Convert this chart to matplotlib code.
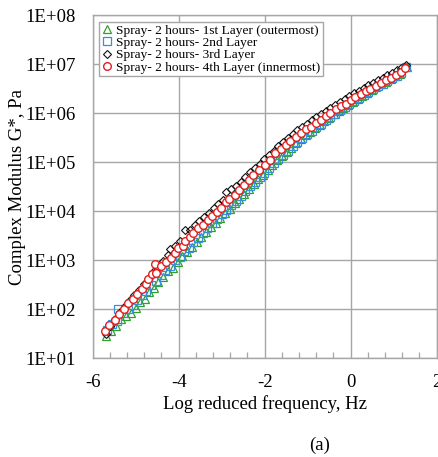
import numpy as np
import matplotlib
matplotlib.use("Agg")
import matplotlib.pyplot as plt
from matplotlib.ticker import MultipleLocator, FixedLocator, NullLocator, FuncFormatter

plt.rcParams['font.family'] = ['Liberation Serif', 'DejaVu Serif']

# ---- data: x = log reduced frequency (Hz), y = log10 |G*| (Pa) ----
x_l1 = [-5.68, -5.57, -5.45, -5.34, -5.23, -5.12, -5.00, -4.90, -4.79, -4.68, -4.57, -4.47,
        -4.36, -4.24, -4.13, -4.02, -3.92, -3.80, -3.70, -3.58, -3.47, -3.36, -3.25, -3.14,
        -3.03, -2.92, -2.81, -2.70, -2.59, -2.48, -2.37, -2.26, -2.15, -2.04, -1.93, -1.82,
        -1.71, -1.60, -1.49, -1.38, -1.27, -1.16, -1.05, -0.94, -0.83, -0.72, -0.61, -0.50,
        -0.39, -0.28, -0.17, -0.06, 0.05, 0.16, 0.27, 0.38, 0.49, 0.60, 0.71, 0.82,
        0.93, 1.04, 1.15, 1.30]
lg_l1 = [1.46, 1.56, 1.66, 1.80, 1.86, 1.92, 2.03, 2.15, 2.22, 2.36, 2.44, 2.55,
         2.66, 2.78, 2.84, 2.97, 3.08, 3.16, 3.28, 3.37, 3.47, 3.57, 3.67, 3.77,
         3.86, 3.96, 4.05, 4.16, 4.25, 4.35, 4.45, 4.55, 4.65, 4.75, 4.85, 4.94,
         5.04, 5.13, 5.21, 5.30, 5.39, 5.47, 5.55, 5.62, 5.70, 5.77, 5.84, 5.91,
         5.98, 6.04, 6.10, 6.16, 6.23, 6.29, 6.35, 6.41, 6.47, 6.53, 6.59, 6.64,
         6.70, 6.76, 6.81, 6.95]

x_l2 = [-5.66, -5.55, -5.44, -5.40, -5.29, -5.18, -5.07, -4.96, -4.86, -4.75, -4.64, -4.53,
        -4.42, -4.31, -4.20, -4.09, -3.98, -3.88, -3.77, -3.66, -3.55, -3.44, -3.33, -3.22,
        -3.11, -3.00, -2.89, -2.78, -2.67, -2.56, -2.45, -2.34, -2.23, -2.12, -2.01, -1.90,
        -1.79, -1.68, -1.57, -1.46, -1.35, -1.24, -1.13, -1.02, -0.91, -0.80, -0.69, -0.58,
        -0.47, -0.36, -0.25, -0.14, -0.03, 0.08, 0.19, 0.30, 0.41, 0.52, 0.63, 0.74,
        0.85, 0.96, 1.07, 1.18, 1.29]
lg_l2 = [1.58, 1.70, 1.76, 2.00, 1.93, 2.00, 2.08, 2.18, 2.30, 2.38, 2.50, 2.58,
         2.70, 2.80, 2.88, 3.00, 3.06, 3.18, 3.26, 3.38, 3.46, 3.56, 3.65, 3.76,
         3.84, 3.94, 4.03, 4.13, 4.22, 4.32, 4.41, 4.51, 4.60, 4.70, 4.79, 4.89,
         4.98, 5.07, 5.15, 5.24, 5.33, 5.41, 5.49, 5.57, 5.64, 5.72, 5.79, 5.86,
         5.93, 5.99, 6.06, 6.12, 6.18, 6.25, 6.31, 6.37, 6.43, 6.49, 6.55, 6.60,
         6.66, 6.72, 6.77, 6.83, 6.95]

x_l3 = [-5.70, -5.59, -5.47, -5.36, -5.25, -5.14, -5.03, -4.92, -4.81, -4.70, -4.59, -4.48,
        -4.37, -4.26, -4.20, -4.09, -3.97, -3.85, -3.74, -3.63, -3.52, -3.41, -3.30, -3.19,
        -3.08, -2.97, -2.89, -2.78, -2.67, -2.56, -2.45, -2.34, -2.23, -2.12, -2.01, -1.90,
        -1.79, -1.68, -1.57, -1.46, -1.35, -1.24, -1.13, -1.02, -0.91, -0.80, -0.69, -0.58,
        -0.47, -0.36, -0.25, -0.14, -0.03, 0.08, 0.19, 0.30, 0.41, 0.52, 0.63, 0.74,
        0.85, 0.96, 1.07, 1.18, 1.29]
lg_l3 = [1.50, 1.66, 1.80, 1.95, 2.06, 2.18, 2.30, 2.40, 2.52, 2.64, 2.76, 2.86,
         2.98, 3.10, 3.24, 3.30, 3.40, 3.61, 3.62, 3.72, 3.80, 3.88, 3.96, 4.06,
         4.14, 4.24, 4.40, 4.46, 4.52, 4.60, 4.70, 4.80, 4.88, 4.97, 5.06, 5.15,
         5.24, 5.33, 5.41, 5.49, 5.57, 5.65, 5.72, 5.79, 5.86, 5.93, 5.99, 6.05,
         6.11, 6.17, 6.23, 6.29, 6.35, 6.41, 6.46, 6.52, 6.57, 6.62, 6.68, 6.73,
         6.78, 6.83, 6.88, 6.93, 6.99]

x_l4 = [-5.72, -5.61, -5.49, -5.39, -5.28, -5.19, -5.06, -4.96, -4.85, -4.76, -4.72, -4.61,
        -4.56, -4.52, -4.40, -4.30, -4.19, -4.09, -4.01, -3.91, -3.86, -3.74, -3.67, -3.55,
        -3.44, -3.32, -3.22, -3.11, -3.01, -2.91, -2.82, -2.70, -2.60, -2.49, -2.37, -2.27,
        -2.14, -2.00, -1.88, -1.76, -1.63, -1.51, -1.40, -1.28, -1.16, -1.05, -0.93, -0.81,
        -0.70, -0.58, -0.47, -0.35, -0.23, -0.12, 0.00, 0.11, 0.23, 0.35, 0.46, 0.58,
        0.70, 0.81, 0.93, 1.05, 1.16, 1.27]
lg_l4 = [1.56, 1.67, 1.79, 1.90, 2.00, 2.13, 2.20, 2.31, 2.42, 2.51, 2.62, 2.72,
         2.92, 2.74, 2.88, 2.97, 3.04, 3.14, 3.26, 3.29, 3.39, 3.48, 3.56, 3.66,
         3.72, 3.82, 3.90, 3.99, 4.07, 4.19, 4.26, 4.33, 4.43, 4.53, 4.64, 4.74,
         4.84, 4.94, 5.05, 5.18, 5.27, 5.35, 5.43, 5.52, 5.60, 5.67, 5.73, 5.80,
         5.87, 5.94, 6.01, 6.08, 6.14, 6.20, 6.27, 6.33, 6.39, 6.45, 6.50, 6.56,
         6.62, 6.68, 6.73, 6.79, 6.84, 6.92]

labels = ["Spray- 2 hours- 1st Layer (outermost)",
          "Spray- 2 hours- 2nd Layer",
          "Spray- 2 hours- 3rd Layer",
          "Spray- 2 hours- 4th Layer (innermost)"]

y_tick_exps = [1, 2, 3, 4, 5, 6, 7, 8]
x_ticks = [-6, -4, -2, 0, 2]

# ---- figure ----
fig = plt.figure(figsize=(4.38, 4.57), dpi=100)
ax = fig.add_axes([0.2116, 0.216, 0.7854, 0.7505])

grid_c = '#A6A6A6'
ax.plot(x_l1, np.power(10.0, lg_l1), linestyle='none', marker='^', ms=6,
        mfc='none', mec='#2ca02c', mew=0.9, label=labels[0], zorder=3)
ax.plot(x_l2, np.power(10.0, lg_l2), linestyle='none', marker='s', ms=5.3,
        mfc='none', mec='#3b8fd9', mew=0.9, label=labels[1], zorder=4)
ax.plot(x_l3, np.power(10.0, lg_l3), linestyle='none', marker='D', ms=4.3,
        mfc='none', mec='#111111', mew=0.8, label=labels[2], zorder=5)
ax.plot(x_l4, np.power(10.0, lg_l4), linestyle='none', marker='o', ms=5.5,
        mfc='white', mec='#e02020', mew=1.0, label=labels[3], zorder=6)

ax.set_yscale('log')
ax.set_xlim(-6, 2)
ax.set_ylim(1e1, 1e8)
ax.xaxis.set_major_locator(FixedLocator(x_ticks))
ax.xaxis.set_minor_locator(MultipleLocator(0.4))
ax.yaxis.set_major_locator(FixedLocator([10.0 ** e for e in y_tick_exps]))
ax.yaxis.set_minor_locator(NullLocator())
ax.yaxis.set_major_formatter(FuncFormatter(lambda v, p: "1E+%02d" % int(round(np.log10(v)))))
ax.xaxis.set_major_formatter(FuncFormatter(lambda v, p: "%d" % int(round(v))))

ax.grid(True, which='major', color=grid_c, lw=1.0)
ax.set_axisbelow(True)
for s in ax.spines.values():
    s.set_color(grid_c)
    s.set_linewidth(1.0)

ax.tick_params(axis='both', which='major', length=0, labelsize=13.5, pad=12)
ax.tick_params(axis='x', which='major', pad=11.5)
ax.tick_params(axis='x', which='minor', direction='in', length=4, color=grid_c, width=0.9)

ax.set_xlabel("Log reduced frequency, Hz", fontsize=13.5, labelpad=3)
ax.set_ylabel("Complex Modulus G*, Pa", fontsize=13.5, labelpad=0)

leg = ax.legend(loc='upper left', bbox_to_anchor=(0.019, 0.981), borderaxespad=0,
                fontsize=9.6, handlelength=0.8, handletextpad=0.25, borderpad=0.2,
                labelspacing=0.0, fancybox=False, framealpha=1, edgecolor=grid_c)
leg.get_frame().set_linewidth(1.0)

fig.text(320 / 438, 1 - 445 / 457, "(a)", ha='center', va='center', fontsize=13.5)

fig.savefig("out.png", dpi=100)
